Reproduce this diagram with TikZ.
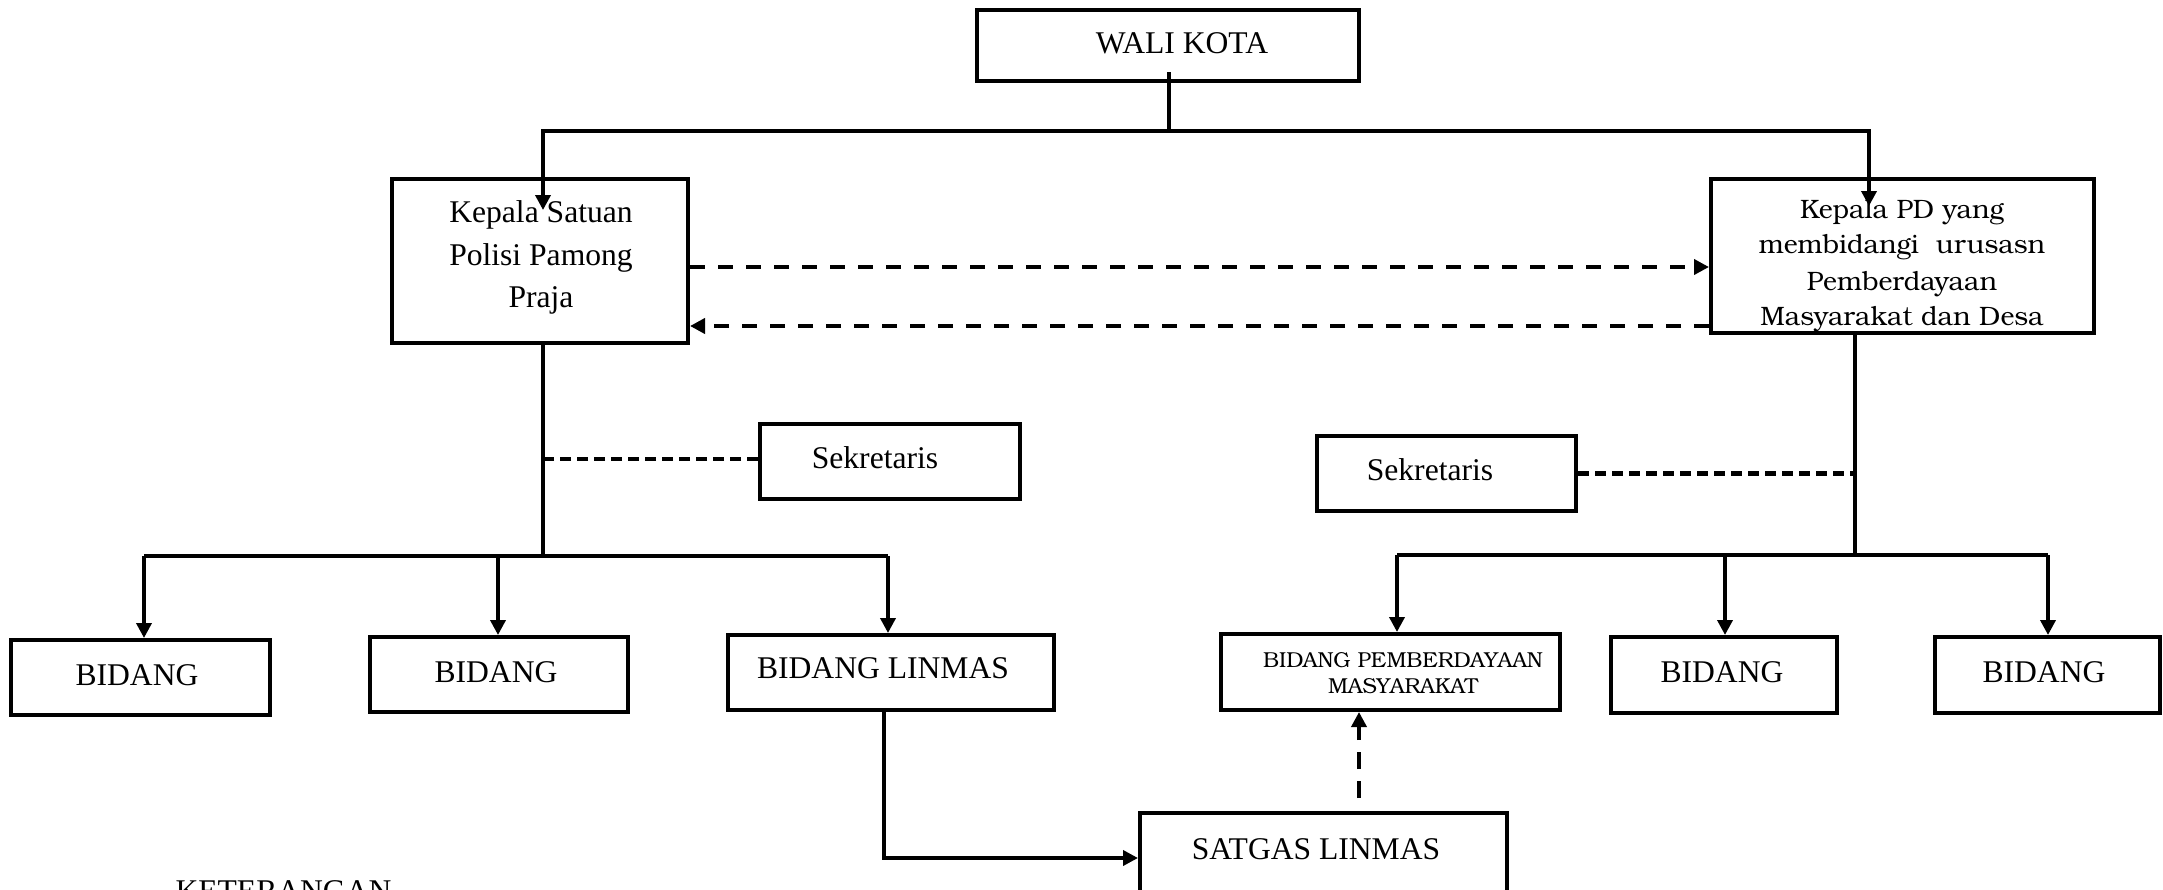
\documentclass[tikz,border=0pt]{standalone}
\usepackage{fontspec}
\setmainfont{Liberation Serif}
\newfontfamily\bonum{TeX Gyre Bonum}
\usetikzlibrary{arrows.meta,calc}

\tikzset{
  box/.style={draw, line width=2pt, inner sep=0pt},
  txt/.style={inner sep=0pt, anchor=base, font=\fontsize{15.8}{19}\selectfont},
  txtpd/.style={inner sep=0pt, anchor=base, font=\bonum\fontsize{13.3}{16}\selectfont},
  txtpm/.style={inner sep=0pt, anchor=base, font=\bonum\fontsize{10.8}{13}\selectfont},
  conn/.style={line width=1.8pt},
  tip/.style={-{Triangle[length=7.5pt,width=7.5pt]}},
  arr/.style={conn, tip},
  dashbig/.style={line width=2.2pt, dash pattern=on 7.5pt off 6.5pt},
  dashsek/.style={line width=2.2pt, dash pattern=on 5.5pt off 3pt},
  dashup/.style={line width=1.8pt, dash pattern=on 8.5pt off 6pt},
}

\begin{document}
\begin{tikzpicture}[x=0.5pt, y=-0.5pt]
\useasboundingbox (0,0) rectangle (2163,889);
\clip (0,0) rectangle (2163,889);

% ---- boxes ----
\node[box, minimum width=191pt, minimum height=35.5pt] (wali) at (1168,45.5) {};
\node[box, minimum width=148pt, minimum height=82pt] (kps) at (540,261) {};
\node[box, minimum width=191.5pt, minimum height=77pt] (kpd) at (1902.5,256) {};
\node[box, minimum width=130pt, minimum height=37.5pt] (sekL) at (890,461.5) {};
\node[box, minimum width=129.5pt, minimum height=37.5pt] (sekR) at (1446.5,473.5) {};
\node[box, minimum width=129.5pt, minimum height=37.5pt] (bid1) at (140.5,677.5) {};
\node[box, minimum width=129pt, minimum height=37.5pt] (bid2) at (499,674.5) {};
\node[box, minimum width=163pt, minimum height=37.5pt] (linmas) at (891,672.5) {};
\node[box, minimum width=169.5pt, minimum height=38pt] (bidpm) at (1390.5,672) {};
\node[box, minimum width=113pt, minimum height=38pt] (bidR1) at (1724,675) {};
\node[box, minimum width=112.5pt, minimum height=38pt] (bidR2) at (2047.5,675) {};
\node[box, minimum width=183.5pt, minimum height=46pt] (satgas) at (1323.5,859) {};

% ---- texts ----
\node[txt] (wali-t) at (1182,53) {WALI KOTA};
\node[txt] (kps-t1) at (541,222) {Kepala Satuan};
\node[txt] (kps-t2) at (541,265) {Polisi Pamong};
\node[txt] (kps-t3) at (541,307) {Praja};
\node[txtpd] (kpd-t1) at (1902,218) {Kepala PD yang};
\node[txtpd] (kpd-t2) at (1902,253) {membidangi~ urusasn};
\node[txtpd] (kpd-t3) at (1902,290) {Pemberdayaan};
\node[txtpd] (kpd-t4) at (1902,325) {Masyarakat dan Desa};
\node[txt] (sekL-t) at (875,468) {Sekretaris};
\node[txt] (sekR-t) at (1430,480) {Sekretaris};
\node[txt] (bid1-t) at (137,685) {BIDANG};
\node[txt] (bid2-t) at (496,682) {BIDANG};
\node[txt] (linmas-t) at (883,678) {BIDANG LINMAS};
\node[txtpm] (bidpm-t1) at (1403,667) {BIDANG PEMBERDAYAAN};
\node[txtpm] (bidpm-t2) at (1403,693) {MASYARAKAT};
\node[txt] (bidR1-t) at (1722,682) {BIDANG};
\node[txt] (bidR2-t) at (2044,682) {BIDANG};
\node[txt] (satgas-t) at (1316,859) {SATGAS LINMAS};
\node[txt] (ket) at (283.5,901) {KETERANGAN};

% ---- junctions ----
\coordinate (jtop) at (1169,131);
\coordinate (jl) at (543,556);
\coordinate (jr) at (1855,555);

% ---- top level ----
\draw[conn] ($(wali.south)+(1,-11)$) -- (jtop);
\draw[arr] (jtop) -| ($(kps.north)+(3,33)$);
\draw[arr] (jtop) -| ($(kpd.north)+(-33.5,29)$);

% ---- coordination between the two heads ----
\draw[dashbig, tip] (kps.east |- 0,267) -- (kpd.west |- 0,267);
\draw[dashbig, tip] (kpd.west |- 0,326) -- (kps.east |- 0,326);

% ---- left branch ----
\draw[conn] (kps.south -| jl) -- (jl);
\draw[dashsek] (sekL.west |- 0,459) -- (jl |- 0,459);
\draw[conn] ($(bid1.north |- jl)+(3.5,0)$) -- ($(linmas.north |- jl)+(-3,0)$);
\draw[arr] ($(bid1.north |- jl)+(3.5,0)$) -- ($(bid1.north)+(3.5,0)$);
\draw[arr] ($(bid2.north |- jl)+(-1,0)$) -- ($(bid2.north)+(-1,0)$);
\draw[arr] ($(linmas.north |- jl)+(-3,0)$) -- ($(linmas.north)+(-3,0)$);
\draw[arr] ($(linmas.south)+(-7,0)$) |- ($(satgas.west)+(0,-1)$);

% ---- right branch ----
\draw[conn] (kpd.south -| jr) -- (jr);
\draw[dashsek] (sekR.east) -- (sekR.east -| jr);
\draw[conn] ($(bidpm.north |- jr)+(6.5,0)$) -- ($(bidR2.north |- jr)+(0.5,0)$);
\draw[arr] ($(bidpm.north |- jr)+(6.5,0)$) -- ($(bidpm.north)+(6.5,0)$);
\draw[arr] ($(bidR1.north |- jr)+(1,0)$) -- ($(bidR1.north)+(1,0)$);
\draw[arr] ($(bidR2.north |- jr)+(0.5,0)$) -- ($(bidR2.north)+(0.5,0)$);
\draw[dashup, tip] ($(satgas.north)+(35.5,-13)$) -- ($(bidpm.south)+(-31.5,0)$);
\end{tikzpicture}
\end{document}
